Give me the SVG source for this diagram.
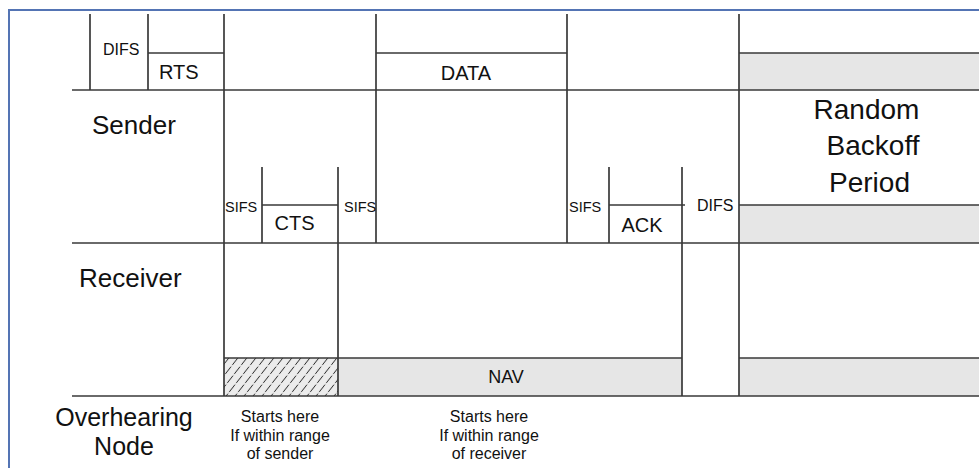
<svg xmlns="http://www.w3.org/2000/svg" width="979" height="468" viewBox="0 0 979 468">
  <style>
    .ln { stroke: #3a3a3a; stroke-width: 1.7; fill: none; }
    .gray { fill: #e6e6e6; stroke: none; }
    text { font-family: "Liberation Sans", Arial, sans-serif; fill: #111; }
    .big { font-size: 26px; }
    .mid { font-size: 20px; }
    .sm { font-size: 16px; }
    .xs { font-size: 14.5px; }
    .note { font-size: 16px; text-anchor: middle; }
  </style>
  <defs>
    <pattern id="hatch" patternUnits="userSpaceOnUse" width="9" height="9" patternTransform="skewX(-38)">
      <rect width="9" height="9" fill="#ececec"/>
      <line x1="4.5" y1="0" x2="4.5" y2="9" stroke="#333" stroke-width="1.1" stroke-dasharray="5 1.5"/>
    </pattern>
  </defs>
  <rect width="979" height="468" fill="#ffffff"/>
  <rect id="frame" x="9" y="10" width="1000" height="500" fill="none" stroke="#5474b4" stroke-width="2"/>

  <g id="fills">
    <rect class="gray" x="739" y="53" width="240" height="37"/>
    <rect class="gray" x="739" y="205" width="240" height="38"/>
    <rect class="gray" x="338" y="358" width="344" height="38"/>
    <rect class="gray" x="739" y="358" width="240" height="38"/>
    <rect x="224" y="358" width="114" height="38" fill="url(#hatch)"/>
  </g>

  <g id="connectors">
    <path class="ln" d="M90 14V90 M148 14V90 M224 14V396 M376 14V243 M567 14V243 M739 14V396 M262 167V243 M338 167V396 M609 167V243 M682 167V396"/>
    <path class="ln" d="M148 53H224 M376 53H567 M739 53H979 M72 90H979 M262 205H338 M609 205H685 M739 205H979 M72 243H979 M224 358H682 M739 358H979 M72 396H979"/>
  </g>

  <g id="sender">
    <text class="big" x="92" y="134">Sender</text>
    <text class="sm" x="103" y="55">DIFS</text>
    <text class="mid" x="159" y="79">RTS</text>
    <text class="mid" x="466" y="80" text-anchor="middle">DATA</text>
  </g>

  <g id="receiver">
    <text class="big" x="79" y="287">Receiver</text>
    <text class="xs" x="225" y="212">SIFS</text>
    <text class="mid" x="294.5" y="230" text-anchor="middle">CTS</text>
    <text class="xs" x="344" y="212">SIFS</text>
    <text class="xs" x="569" y="212">SIFS</text>
    <text class="mid" x="642" y="232" text-anchor="middle">ACK</text>
    <text class="sm" x="697" y="211">DIFS</text>
  </g>

  <g id="backoff">
    <text x="866.5" y="119" font-size="28" text-anchor="middle">Random</text>
    <text x="873" y="155" font-size="28" text-anchor="middle">Backoff</text>
    <text x="869.5" y="192" font-size="28" text-anchor="middle">Period</text>
  </g>

  <g id="overhearing">
    <text x="124" y="426" font-size="25" text-anchor="middle">Overhearing</text>
    <text x="124" y="455" font-size="25" text-anchor="middle">Node</text>
    <text x="506" y="383" text-anchor="middle" font-size="18">NAV</text>
    <text class="note" x="280" y="422">Starts here</text>
    <text class="note" x="280" y="441">If within range</text>
    <text class="note" x="280" y="459">of sender</text>
    <text class="note" x="489" y="422">Starts here</text>
    <text class="note" x="489" y="441">If within range</text>
    <text class="note" x="489" y="459">of receiver</text>
  </g>
</svg>
